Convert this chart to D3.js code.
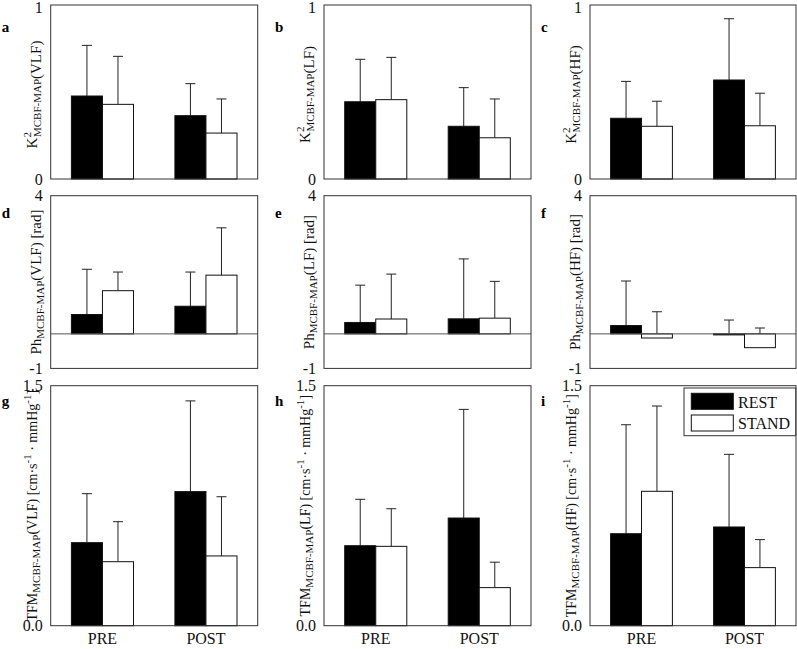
<!DOCTYPE html>
<html>
<head>
<meta charset="utf-8">
<script src="https://cdn.jsdelivr.net/npm/d3@7"></script>
<style>
  body { margin: 0; background: #fff; }
  svg { font-family: "Liberation Serif", "Times New Roman", serif; }
</style>
</head>
<body>
<div id="chart"></div>
<script>
var width = 797;
var height = 649;

// data
var categories = ["PRE", "POST"];
var series = ["REST", "STAND"];
var panelLetters = ["a", "b", "c", "d", "e", "f", "g", "h", "i"];
var bands = ["VLF", "LF", "HF"];

// K2 (coherence)
var k2Rest = [[0.477, 0.364], [0.444, 0.303], [0.349, 0.569]];
var k2RestSd = [[0.291, 0.184], [0.244, 0.222], [0.212, 0.352]];
var k2Stand = [[0.429, 0.264], [0.456, 0.237], [0.303, 0.306]];
var k2StandSd = [[0.276, 0.196], [0.243, 0.223], [0.144, 0.187]];

// phase [rad]
var phRest = [[0.56, 0.80], [0.33, 0.435], [0.24, -0.03]];
var phRestSd = [[1.31, 0.99], [1.08, 1.735], [1.29, 0.43]];
var phStand = [[1.25, 1.70], [0.43, 0.455], [-0.12, -0.40]];
var phStandSd = [[0.54, 1.37], [1.30, 1.065], [0.76, 0.57]];

// transfer function magnitude
var tfmRest = [[0.519, 0.838], [0.50, 0.673], [0.575, 0.617]];
var tfmRestSd = [[0.306, 0.567], [0.29, 0.679], [0.681, 0.454]];
var tfmStand = [[0.40, 0.436], [0.496, 0.238], [0.84, 0.363]];
var tfmStandSd = [[0.25, 0.37], [0.235, 0.159], [0.533, 0.175]];

var rowDomains = [[0, 1], [-1, 4], [0, 1.5]];
var rowTickLabels = [["0", "1"], ["-1", "4"], ["0.0", "1.5"]];

// layout
var colLeft = [50.7, 324, 590];
var colWidth = [207, 207, 206];
var rowTop = [5, 195.7, 385.7];
var rowHeight = [174, 172.7, 240];
var letterDy = [27, 22, 20];
var labelOffset = [-14, -10, -14];
var labelSize = [15, 15, 14];

var svg = d3.select("#chart")
    .append("svg")
    .attr("width", width)
    .attr("height", height);

var rows = [
    {rest: k2Rest, restSd: k2RestSd, stand: k2Stand, standSd: k2StandSd},
    {rest: phRest, restSd: phRestSd, stand: phStand, standSd: phStandSd},
    {rest: tfmRest, restSd: tfmRestSd, stand: tfmStand, standSd: tfmStandSd}
];

function yLabel(g, row, band, h) {
    var big = labelSize[row], small = 11;
    var t = g.append("text")
        .attr("transform", "rotate(-90)")
        .attr("text-anchor", "start")
        .attr("font-family", "Liberation Serif, serif")
        .attr("font-size", big)
        .attr("fill", "#111");
    if (row === 0) {
        t.append("tspan").text("K");
        t.append("tspan").attr("font-size", small).attr("dy", -6).text("2");
        t.append("tspan").attr("font-size", small).attr("dy", 10).attr("dx", -5).text("MCBF-MAP");
        t.append("tspan").text("(" + band + ")");
    } else if (row === 1) {
        t.append("tspan").text("Ph");
        t.append("tspan").attr("font-size", small).attr("dy", 3).text("MCBF-MAP");
        t.append("tspan").attr("dy", -3).text("(" + band + ") [rad]");
    } else {
        t.append("tspan").text("TFM");
        t.append("tspan").attr("font-size", small).attr("dy", 3).text("MCBF-MAP");
        t.append("tspan").attr("dy", -3).text("(" + band + ") [cm\u00b7s");
        t.append("tspan").attr("font-size", small).attr("dy", -6).text("-1");
        t.append("tspan").attr("dy", 6).text(" \u00b7 mmHg");
        t.append("tspan").attr("font-size", small).attr("dy", -6).text("-1");
        t.append("tspan").attr("dy", 6).text("]");
    }
    var len = t.node().getComputedTextLength();
    t.attr("x", -(h / 2) - len / 2);
    return t;
}

for (var r = 0; r < 3; r++) {
    for (var c = 0; c < 3; c++) {
        var w = colWidth[c], h = rowHeight[r];
        var g = svg.append("g")
            .attr("transform", "translate(" + colLeft[c] + "," + rowTop[r] + ")");

        var xScale = d3.scaleBand().domain(categories).range([0, w]);
        var xInner = d3.scaleBand().domain(series)
            .range([xScale.bandwidth() * 0.2, xScale.bandwidth() * 0.8]);
        var yScale = d3.scaleLinear().domain(rowDomains[r]).range([h, 0]);

        var d = rows[r];
        var bars = [];
        categories.forEach(function (cat, i) {
            bars.push({cat: cat, s: "REST", v: d.rest[c][i], sd: d.restSd[c][i]});
            bars.push({cat: cat, s: "STAND", v: d.stand[c][i], sd: d.standSd[c][i]});
        });

        // error bars (upward only)
        var capHalf = 5;
        g.selectAll(".err")
            .data(bars)
            .enter()
            .append("path")
            .attr("class", "err")
            .attr("fill", "none")
            .attr("stroke", "#222")
            .attr("stroke-width", 1)
            .attr("d", function (b) {
                var x = xScale(b.cat) + xInner(b.s) + xInner.bandwidth() / 2;
                var y0 = yScale(b.v), y1 = yScale(b.v + b.sd);
                return "M" + x + "," + y0 + "V" + y1 + "M" + (x - capHalf) + "," + y1 + "H" + (x + capHalf);
            });

        g.selectAll(".bar")
            .data(bars)
            .enter()
            .append("rect")
            .attr("class", "bar")
            .attr("x", function (b) { return xScale(b.cat) + xInner(b.s); })
            .attr("width", xInner.bandwidth())
            .attr("y", function (b) { return yScale(Math.max(0, b.v)); })
            .attr("height", function (b) { return Math.max(1, Math.abs(yScale(b.v) - yScale(0))); })
            .attr("fill", function (b) { return b.s === "REST" ? "#000" : "#fff"; })
            .attr("stroke", "#111")
            .attr("stroke-width", 1);

        if (rowDomains[r][0] < 0) {
            g.append("line")
                .attr("x1", 0).attr("x2", w)
                .attr("y1", yScale(0)).attr("y2", yScale(0))
                .attr("stroke", "#555");
        }

        g.append("rect")
            .attr("width", w).attr("height", h)
            .attr("fill", "none")
            .attr("stroke", "#333")
            .attr("stroke-width", 1);

        var labels = rowTickLabels[r];
        var yAxis = d3.axisLeft(yScale)
            .tickValues(rowDomains[r])
            .tickSize(0)
            .tickPadding(8)
            .tickFormat(function (v, i) { return labels[i]; });
        var ya = g.append("g").call(yAxis);
        ya.select(".domain").remove();
        ya.selectAll("text")
            .attr("font-family", "Liberation Serif, serif")
            .attr("font-size", 16)
            .attr("fill", "#111")
            .attr("dy", function (v, i) { return (r === 0 && i === 1) ? "0.45em" : "0.32em"; });

        if (r === 2) {
            var xAxis = d3.axisBottom(xScale).tickSize(0).tickPadding(7);
            var xa = g.append("g").attr("transform", "translate(0," + h + ")").call(xAxis);
            xa.select(".domain").remove();
            xa.selectAll("text")
                .attr("font-family", "Liberation Serif, serif")
                .attr("font-size", 16)
                .attr("fill", "#111");
        }

        yLabel(g, r, bands[c], h).attr("y", labelOffset[r]);

        g.append("text")
            .attr("x", -49)
            .attr("y", letterDy[r])
            .attr("font-weight", "bold")
            .attr("font-size", 15)
            .text(panelLetters[r * 3 + c]);

        // legend in last panel
        if (r === 2 && c === 2) {
            var lg = g.append("g").attr("transform", "translate(" + (w - 112) + ",2.3)");
            lg.append("rect")
                .attr("width", 111.7).attr("height", 47.7)
                .attr("fill", "#fff").attr("stroke", "#333");
            series.forEach(function (s, i) {
                lg.append("rect")
                    .attr("x", 7.3).attr("y", 5.3 + i * 21.7)
                    .attr("width", 42).attr("height", 16)
                    .attr("fill", s === "REST" ? "#000" : "#fff")
                    .attr("stroke", "#111");
                lg.append("text")
                    .attr("x", 54).attr("y", 19.5 + i * 21.7)
                    .attr("font-size", 16)
                    .attr("fill", "#111")
                    .text(s);
            });
        }
    }
}
</script>
</body>
</html>
